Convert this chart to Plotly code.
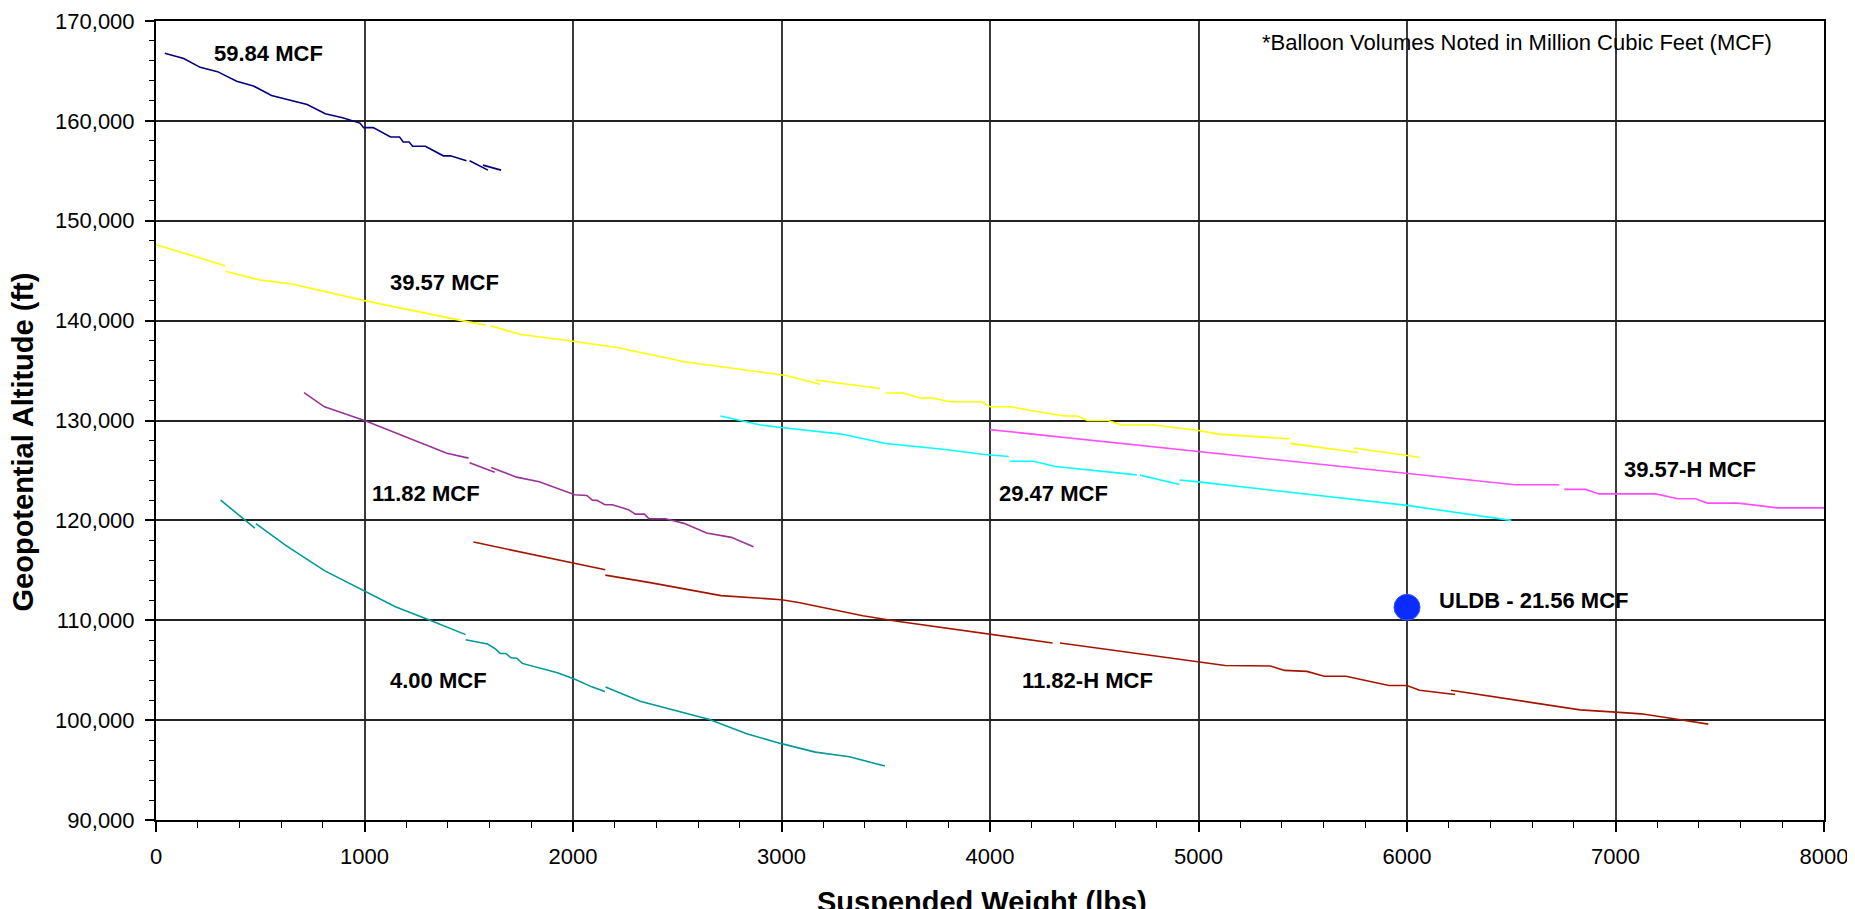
import plotly.graph_objects as go

# ---- data (suspended weight lbs, geopotential altitude ft); None = break between segments
navy_x = [42, 133, 212, 295, 387, 467, 554, 637, 725, 812, 895, 978, 996, 1042, 1125, 1168, 1186, 1214, 1231, 1292, 1378, 1412, 1489, None, 1504, 1592, None, 1568, 1655]
navy_y = [166780, 166250, 165360, 164930, 163960, 163500, 162540, 162140, 161640, 160710, 160320, 159780, 159320, 159320, 158390, 158390, 157890, 157890, 157460, 157460, 156500, 156500, 156000, None, 156000, 155070, None, 155570, 155070]

yellow_x = [0, 332, None, 332, 495, 652, 1000, 1467, 1582, None, 1603, 1750, 2000, 2212, 2533, 2978, 3022, 3185, None, 3163, 3473, None,
            3500, 3582, 3663, 3723, 3810, 3960, 4000, 4097, 4203, 4356, 4420, 4467, 4565, 4634, 4787, 5000, 5095, 5438, None,
            5438, 5765, None, 5745, 6060]
yellow_y = [147600, 145500, None, 144950, 144080, 143660, 142000, 140000, 139550, None, 139480, 138610, 137930, 137310, 135890, 134660, 134500, 133620, None, 134050, 133200, None,
            132750, 132750, 132260, 132260, 131880, 131880, 131380, 131380, 130970, 130450, 130450, 130000, 130000, 129550, 129550, 129000, 128640, 128170, None,
            127710, 126800, None, 127240, 126320]

magenta_x = [4000, 5000, 6000, 6517, 6731, None, 6754, 6857, 6921, 7192, 7299, 7384, 7441, 7588, 7777, 8000]
magenta_y = [129090, 126890, 124690, 123570, 123570, None, 123100, 123100, 122650, 122650, 122170, 122170, 121730, 121730, 121250, 121250]

cyan_x = [2707, 2804, 2899, 2978, 3288, 3500, 3786, 3973, 4090, None, 4095, 4209, 4314, 4704, None, 4720, 4909, None, 4909, 5000, 6000, 6500]
cyan_y = [130450, 130000, 129550, 129350, 128640, 127700, 127090, 126600, 126400, None, 125920, 125920, 125400, 124560, None, 124530, 123590, None, 124050, 123850, 121500, 120000]

purple_x = [710, 808, 1000, 1162, 1274, 1395, 1499, None, 1504, 1625, None, 1608, 1729, 1838, 2008, 2066, 2093, 2115, 2153, 2189, 2266, 2299, 2342, 2364, 2444, 2532, 2641, 2759, 2866]
purple_y = [132800, 131370, 130000, 128670, 127730, 126730, 126230, None, 125770, 124830, None, 125300, 124330, 123870, 122570, 122500, 122030, 122000, 121570, 121570, 121070, 120630, 120630, 120170, 120170, 119700, 118730, 118300, 117370]

teal_x = [310, 474, None, 479, 622, 808, 1000, 1148, 1314, 1485, None, 1485, 1590, 1628, 1651, 1678, 1702, 1730, 1757, 1925, 2009, 2090, 2153, None,
          2156, 2322, 2655, 2833, 2995, 3162, 3326, 3496]
teal_y = [122030, 119230, None, 119670, 117500, 114970, 112900, 111350, 110000, 108560, None, 108050, 107620, 107140, 106670, 106670, 106240, 106200, 105680, 104750, 104100, 103330, 102870, None,
          103310, 101900, 100070, 98630, 97670, 96800, 96330, 95400]

brown_x = [1523, 2008, 2155, None, 2155, 2370, 2710, 3000, 3082, 3390, 3554, 4000, 4300, None,
           4336, 5000, 5128, 5345, 5413, 5520, 5603, 5707, 5914, 6000, 6060, 6231, None,
           6211, 6830, 7000, 7123, 7288, 7445]
brown_y = [117830, 115670, 115050, None, 114520, 113770, 112470, 112050, 111770, 110450, 109900, 108640, 107730, None,
           107730, 105820, 105470, 105420, 104980, 104880, 104390, 104390, 103460, 103460, 102990, 102560, None,
           102990, 101030, 100800, 100630, 100120, 99600]

uldb_x = [6000]
uldb_y = [111300]

# labels: (text, x, y)
label_text = ["59.84 MCF", "39.57 MCF", "11.82 MCF", "4.00 MCF", "29.47 MCF", "11.82-H MCF", "39.57-H MCF", "ULDB - 21.56 MCF"]
label_x = [268, 1112, 1025, 1112, 4035, 4145, 7029, 6143]
label_y = [166700, 143770, 122650, 103930, 122650, 103930, 125060, 111940]

x_ticks = [0, 1000, 2000, 3000, 4000, 5000, 6000, 7000, 8000]
y_ticks = [90000, 100000, 110000, 120000, 130000, 140000, 150000, 160000, 170000]

FONT = "Liberation Sans, Arial, sans-serif"

series = [
    (navy_x, navy_y, "#000080"),
    (yellow_x, yellow_y, "#ffff00"),
    (magenta_x, magenta_y, "#ff4dff"),
    (cyan_x, cyan_y, "#00ffff"),
    (purple_x, purple_y, "#993399"),
    (teal_x, teal_y, "#009999"),
    (brown_x, brown_y, "#a31500"),
]

fig = go.Figure()
for xs, ys, col in series:
    fig.add_trace(go.Scatter(x=xs, y=ys, mode="lines", connectgaps=False,
                             line=dict(color=col, width=1.6), showlegend=False, hoverinfo="skip"))

fig.add_trace(go.Scatter(x=uldb_x, y=uldb_y, mode="markers", showlegend=False,
                         marker=dict(symbol="circle", size=26, color="#0a2cff",
                                     line=dict(color="#3355ff", width=1))))

for t, x, y in zip(label_text, label_x, label_y):
    fig.add_annotation(x=x, y=y, xref="x", yref="y", text="<b>" + t + "</b>", showarrow=False,
                       xanchor="left", yanchor="middle", font=dict(family=FONT, size=22, color="black"))

fig.add_annotation(x=7762, y=167800, xref="x", yref="y", text="*Balloon Volumes Noted in Million Cubic Feet (MCF)",
                   showarrow=False, xanchor="right", yanchor="middle",
                   font=dict(family=FONT, size=22, color="black"))

fig.add_annotation(x=-0.0795, y=0.473, xref="paper", yref="paper", text="<b>Geopotential Altitude (ft)</b>",
                   textangle=-90, showarrow=False, xanchor="center", yanchor="middle",
                   font=dict(family=FONT, size=29, color="black"))

fig.add_annotation(x=0.495, y=-0.0795, xref="paper", yref="paper", text="<b>Suspended Weight (lbs)</b>",
                   showarrow=False, xanchor="center", yanchor="top",
                   font=dict(family=FONT, size=29, color="black"))

# page body has an 8px default margin, so margins are offset by 8px
fig.update_layout(
    width=1855, height=909,
    margin=dict(l=148, r=39, t=13, b=97, pad=0, autoexpand=False),
    paper_bgcolor="white", plot_bgcolor="white",
    font=dict(family=FONT, size=22, color="black"),
)

fig.update_xaxes(
    range=[0, 8000], tickvals=x_ticks, ticktext=[str(v) for v in x_ticks],
    showgrid=True, gridcolor="#3a3a3a", gridwidth=1.5, automargin=False,
    showline=True, linecolor="black", linewidth=2, mirror=True,
    ticks="outside", ticklen=10, tickwidth=1.5, tickcolor="black",
    ticklabelstandoff=6, zeroline=False,
    minor=dict(dtick=200, ticks="outside", ticklen=6, tickwidth=1, tickcolor="black", showgrid=False),
    tickfont=dict(family=FONT, size=22, color="black"),
)
fig.update_yaxes(
    range=[90000, 170000], tickvals=y_ticks, ticktext=[f"{v:,}" for v in y_ticks],
    showgrid=True, gridcolor="#222222", gridwidth=1.5, automargin=False,
    showline=True, linecolor="black", linewidth=2, mirror=True,
    ticks="outside", ticklen=9, tickwidth=1.5, tickcolor="black",
    ticklabelstandoff=6, zeroline=False,
    minor=dict(dtick=2000, ticks="outside", ticklen=5, tickwidth=1, tickcolor="black", showgrid=False),
    tickfont=dict(family=FONT, size=22, color="black"),
)

fig.write_html("out.html")
